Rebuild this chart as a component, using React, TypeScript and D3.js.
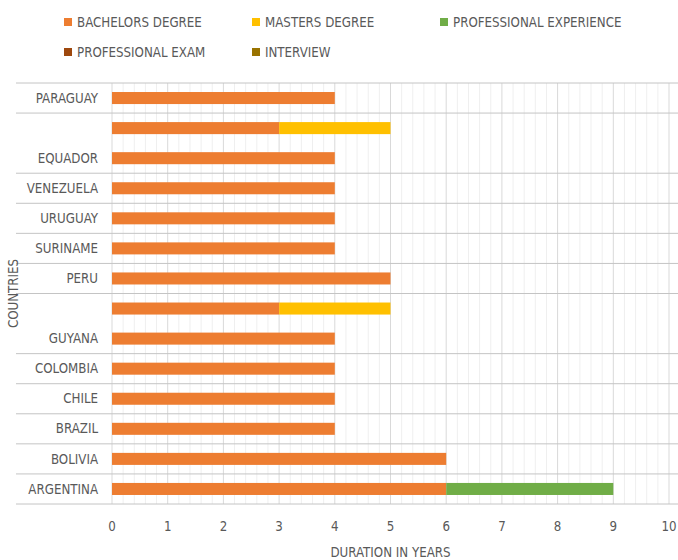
import React from "react";
import * as d3 from "d3";

// categories top to bottom (two rows have no label in the original)
const countries = [
  "PARAGUAY",
  "",
  "EQUADOR",
  "VENEZUELA",
  "URUGUAY",
  "SURINAME",
  "PERU",
  "",
  "GUYANA",
  "COLOMBIA",
  "CHILE",
  "BRAZIL",
  "BOLIVIA",
  "ARGENTINA",
];
const bachelors = [4, 3, 4, 4, 4, 4, 5, 3, 4, 4, 4, 4, 6, 6];
const masters = [0, 2, 0, 0, 0, 0, 0, 2, 0, 0, 0, 0, 0, 0];
const profExperience = [0, 0, 0, 0, 0, 0, 0, 0, 0, 0, 0, 0, 0, 3];
const profExam = [0, 0, 0, 0, 0, 0, 0, 0, 0, 0, 0, 0, 0, 0];
const interview = [0, 0, 0, 0, 0, 0, 0, 0, 0, 0, 0, 0, 0, 0];

const seriesNames = [
  "BACHELORS DEGREE",
  "MASTERS DEGREE",
  "PROFESSIONAL EXPERIENCE",
  "PROFESSIONAL EXAM",
  "INTERVIEW",
];
const seriesColors = ["#ED7D31", "#FFC000", "#70AD47", "#9E480E", "#997300"];
const xTicks = [0, 1, 2, 3, 4, 5, 6, 7, 8, 9, 10];

const width = 678;
const height = 560;
const margin = { top: 83, right: 9, bottom: 56, left: 112 };
const font = "'Liberation Sans Narrow', 'DejaVu Sans Condensed', sans-serif";
const textColor = "#595959";
const fs = 13.2;

export default function App() {
  const keys = countries.map((c, i) => `${i}-${c}`);
  const rows = keys.map((k, i) => ({
    key: k,
    values: [bachelors[i], masters[i], profExperience[i], profExam[i], interview[i]],
  }));

  const x = d3
    .scaleLinear()
    .domain([0, 10])
    .range([margin.left, width - margin.right]);

  const y = d3
    .scaleBand()
    .domain(keys)
    .range([margin.top, 504])
    .paddingInner(0.6)
    .paddingOuter(0.3);

  const step = y.step();
  const y0 = margin.top;
  const yEnd = y0 + step * keys.length;

  // stacked segments
  const stack = d3
    .stack<any>()
    .keys([0, 1, 2, 3, 4].map(String))
    .value((d: any, k: string) => d.values[+k]);
  const stacked = stack(rows);

  const minorTicks = d3.range(0, 10.001, 0.2).filter((v) => Math.abs(v - Math.round(v)) > 0.01);

  // horizontal separators: skip the boundary right after an unlabeled row
  const separators = d3
    .range(0, keys.length + 1)
    .filter((i) => i === 0 || countries[i - 1] !== "");

  const legendPos = [
    { x: 64, y: 22 },
    { x: 252, y: 22 },
    { x: 440, y: 22 },
    { x: 64, y: 52 },
    { x: 252, y: 52 },
  ];

  return (
    <svg
      width={width}
      height={height}
      style={{ position: "absolute", left: 0, top: 0, background: "#fff" }}
      fontFamily={font}
    >
      {/* minor gridlines */}
      {minorTicks.map((t) => (
        <line
          key={"m" + t}
          x1={x(t)}
          x2={x(t)}
          y1={y0}
          y2={yEnd}
          stroke="#EFEFEF"
          strokeWidth={1}
        />
      ))}
      {/* major gridlines */}
      {xTicks.map((t) => (
        <line
          key={"g" + t}
          x1={x(t)}
          x2={x(t)}
          y1={y0}
          y2={yEnd}
          stroke="#D9D9D9"
          strokeWidth={1}
        />
      ))}
      {/* category separators */}
      {separators.map((i) => (
        <line
          key={"s" + i}
          x1={16}
          x2={width}
          y1={y0 + i * step}
          y2={y0 + i * step}
          stroke="#C4C4C4"
          strokeWidth={1}
        />
      ))}

      {/* bars */}
      {stacked.map((layer, si) =>
        layer.map((seg, ri) =>
          seg[1] - seg[0] > 0 ? (
            <rect
              key={`b${si}-${ri}`}
              x={x(seg[0])}
              width={x(seg[1]) - x(seg[0])}
              y={y(keys[ri])}
              height={y.bandwidth()}
              fill={seriesColors[si]}
            />
          ) : null
        )
      )}

      {/* category labels */}
      {countries.map((c, i) => (
        <text
          key={"c" + i}
          x={98}
          y={(y(keys[i]) as number) + y.bandwidth() / 2}
          dy="0.35em"
          textAnchor="end"
          fontSize={fs}
          fill={textColor}
        >
          {c}
        </text>
      ))}

      {/* x tick labels */}
      {xTicks.map((t) => (
        <text
          key={"t" + t}
          x={x(t)}
          y={526}
          dy="0.35em"
          textAnchor="middle"
          fontSize={fs}
          fill={textColor}
        >
          {t}
        </text>
      ))}

      {/* axis titles */}
      <text
        x={(x(0) + x(10)) / 2}
        y={552}
        dy="0.35em"
        textAnchor="middle"
        fontSize={fs}
        fill={textColor}
      >
        DURATION IN YEARS
      </text>
      <text
        transform={`translate(13,${(y0 + yEnd) / 2}) rotate(-90)`}
        dy="0.35em"
        textAnchor="middle"
        fontSize={fs}
        fill={textColor}
      >
        COUNTRIES
      </text>

      {/* legend */}
      {seriesNames.map((name, i) => (
        <g key={"l" + i} transform={`translate(${legendPos[i].x},${legendPos[i].y})`}>
          <rect x={0} y={-4} width={8} height={8} fill={seriesColors[i]} />
          <text x={13} y={0} dy="0.35em" fontSize={fs} fill={textColor}>
            {name}
          </text>
        </g>
      ))}
    </svg>
  );
}
